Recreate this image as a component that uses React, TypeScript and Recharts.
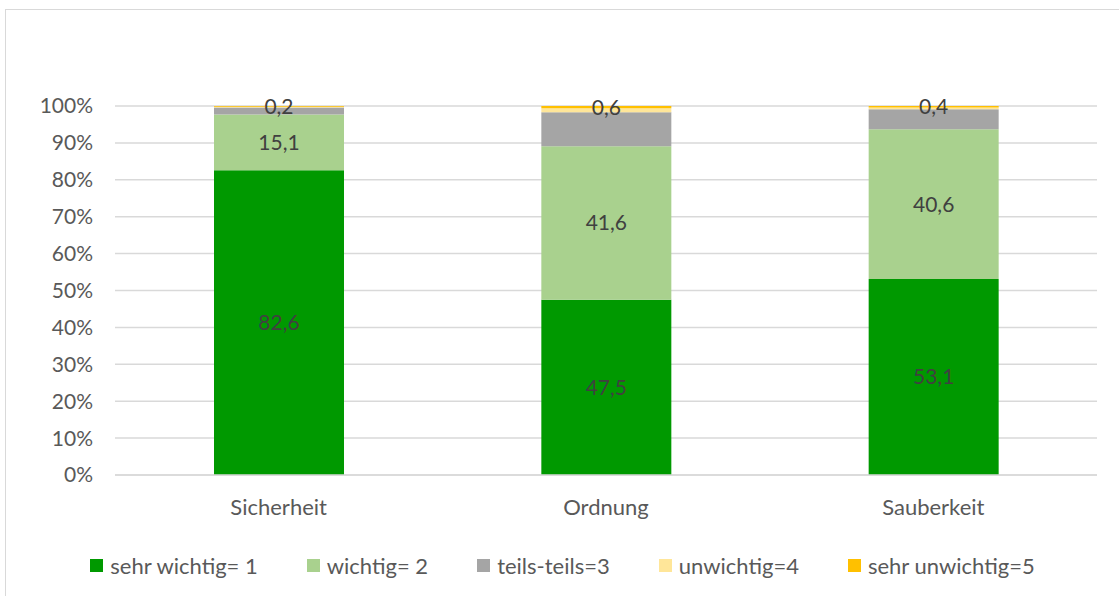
import { BarChart, Bar, XAxis, YAxis, CartesianGrid, LabelList } from "recharts";

const categories = ["Sicherheit", "Ordnung", "Sauberkeit"];
const sehrWichtig = [82.6, 47.5, 53.1];
const wichtig = [15.1, 41.6, 40.6];
const teilsTeils = [1.9, 9.2, 5.4];
const unwichtig = [0.2, 1.1, 0.5];
const sehrUnwichtig = [0.2, 0.6, 0.4];
const yTicks = [0, 10, 20, 30, 40, 50, 60, 70, 80, 90, 100];

const seriesNames = ["sehr wichtig= 1", "wichtig= 2", "teils-teils=3", "unwichtig=4", "sehr unwichtig=5"];
const seriesColors = ["#009900", "#a9d18e", "#a5a5a5", "#ffe699", "#ffc000"];

const data = categories.map((name, i) => ({
  name,
  s1: sehrWichtig[i],
  s2: wichtig[i],
  s3: teilsTeils[i],
  s4: unwichtig[i],
  s5: sehrUnwichtig[i],
}));

const font = "Lato, 'Open Sans', sans-serif";
const fmt = (v: any) => Number(v).toFixed(1).replace(".", ",");

const labelStyle = { fill: "#404040", fontSize: 21, fontFamily: font };

function ChartLegend() {
  return (
    <div
      style={{
        position: "absolute",
        left: 0,
        top: 552,
        width: 1125,
        display: "flex",
        justifyContent: "center",
        gap: 49,
        fontFamily: font,
        fontSize: 22,
        color: "#595959",
      }}
    >
      {seriesNames.map((n, i) => (
        <div key={n} style={{ display: "flex", alignItems: "center", gap: 7 }}>
          <span style={{ width: 13, height: 13, background: seriesColors[i], display: "inline-block" }} />
          <span>{n}</span>
        </div>
      ))}
    </div>
  );
}

export default function App() {
  return (
    <div style={{ position: "absolute", left: 0, top: 0, width: 1119, height: 596, background: "#fff", overflow: "hidden" }}>
      <div style={{ position: "absolute", left: 5, top: 9, width: 1120, height: 600, border: "1px solid #d9d9d9" }} />
      <div style={{ position: "absolute", left: 0, top: 0 }}>
        <BarChart
          width={1119}
          height={596}
          data={data}
          margin={{ top: 106, right: 22, bottom: 91, left: 0 }}
          barSize={130}
        >
          <CartesianGrid vertical={false} stroke="#d9d9d9" strokeWidth={1.5} />
          <XAxis
            dataKey="name"
            tickLine={false}
            axisLine={{ stroke: "#d9d9d9", strokeWidth: 1.5 }}
            tickSize={0}
            tickMargin={24}
            tick={{ fill: "#595959", fontSize: 22, fontFamily: font }}
          />
          <YAxis
            width={115}
            domain={[0, 100]}
            ticks={yTicks}
            allowDataOverflow
            tickFormatter={(v) => `${v}%`}
            axisLine={false}
            tickLine={false}
            tickSize={0}
            tickMargin={22}
            tick={{ fill: "#595959", fontSize: 21, fontFamily: font }}
          />
          <Bar dataKey="s1" name={seriesNames[0]} stackId="a" fill={seriesColors[0]} isAnimationActive={false}>
            <LabelList dataKey="s1" position="center" formatter={fmt} style={labelStyle} />
          </Bar>
          <Bar dataKey="s2" name={seriesNames[1]} stackId="a" fill={seriesColors[1]} isAnimationActive={false}>
            <LabelList dataKey="s2" position="center" formatter={fmt} style={labelStyle} />
          </Bar>
          <Bar dataKey="s3" name={seriesNames[2]} stackId="a" fill={seriesColors[2]} isAnimationActive={false} />
          <Bar dataKey="s4" name={seriesNames[3]} stackId="a" fill={seriesColors[3]} isAnimationActive={false} />
          <Bar dataKey="s5" name={seriesNames[4]} stackId="a" fill={seriesColors[4]} isAnimationActive={false}>
            <LabelList dataKey="s5" position="center" formatter={fmt} style={labelStyle} />
          </Bar>
        </BarChart>
      </div>
      <ChartLegend />
    </div>
  );
}
